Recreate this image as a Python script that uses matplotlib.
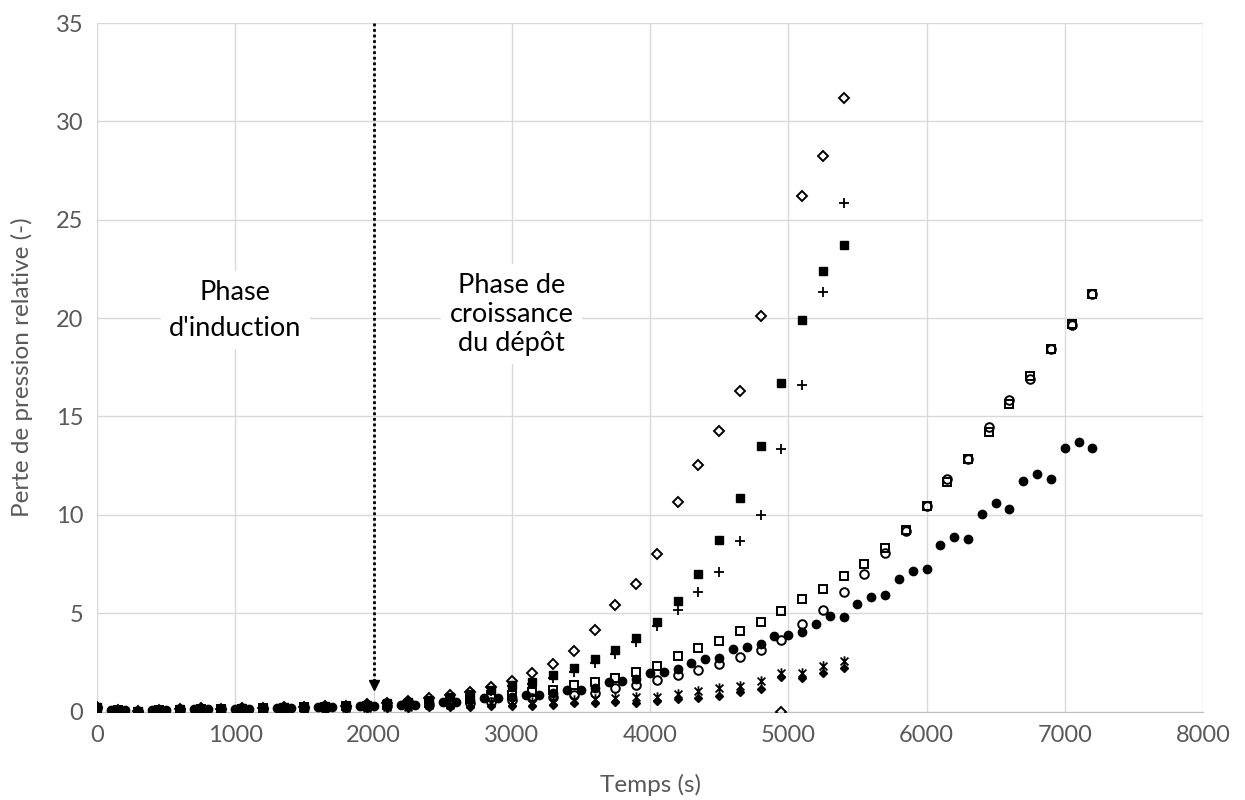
import matplotlib
matplotlib.use("Agg")
import matplotlib.pyplot as plt
from matplotlib.path import Path

# time axes (s)
t_150 = [0, 150, 300, 450, 600, 750, 900, 1050, 1200, 1350, 1500, 1650, 1800,
         1950, 2100, 2250, 2400, 2550, 2700, 2850, 3000, 3150, 3300, 3450, 3600,
         3750, 3900, 4050, 4200, 4350, 4500, 4650, 4800, 4950, 5100, 5250, 5400]
t_150_long = t_150 + [5550, 5700, 5850, 6000, 6150, 6300, 6450, 6600, 6750,
                      6900, 7050, 7200]
t_100 = [0, 100, 200, 300, 400, 500, 600, 700, 800, 900, 1000, 1100, 1200,
         1300, 1400, 1500, 1600, 1700, 1800, 1900, 2000, 2100, 2200, 2300, 2400,
         2500, 2600, 2700, 2800, 2900, 3000, 3100, 3200, 3300, 3400, 3500, 3600,
         3700, 3800, 3900, 4000, 4100, 4200, 4300, 4400, 4500, 4600, 4700, 4800,
         4900, 5000, 5100, 5200, 5300, 5400, 5500, 5600, 5700, 5800, 5900, 6000,
         6100, 6200, 6300, 6400, 6500, 6600, 6700, 6800, 6900, 7000, 7100, 7200]

# relative pressure loss (-)
open_diamond = [0.25, 0.10, 0.05, 0.10, 0.15, 0.20, 0.15, 0.20, 0.20, 0.25, 0.25,
                0.30, 0.30, 0.40, 0.45, 0.55, 0.70, 0.85, 1.00, 1.25, 1.55, 1.94,
                2.41, 3.09, 4.12, 5.41, 6.49, 8.03, 10.65, 12.55, 14.24, 16.3,
                20.1, 0.0, 26.2, 28.25, 31.2]
filled_square = [0.25, 0.10, 0.05, 0.10, 0.15, 0.15, 0.15, 0.20, 0.20, 0.25, 0.25,
                 0.30, 0.30, 0.35, 0.45, 0.50, 0.60, 0.75, 0.90, 1.10, 1.35, 1.50,
                 1.84, 2.19, 2.68, 3.12, 3.73, 4.54, 5.64, 6.99, 8.71, 10.87,
                 13.48, 16.7, 19.9, 22.38, 23.73]
plus = [0.20, 0.10, 0.05, 0.10, 0.15, 0.15, 0.15, 0.20, 0.20, 0.25, 0.25, 0.30,
        0.30, 0.35, 0.40, 0.50, 0.55, 0.70, 0.85, 1.05, 1.30, 1.40, 1.70, 2.00,
        2.45, 2.90, 3.55, 4.35, 5.15, 6.10, 7.07, 8.67, 9.97, 13.34, 16.6,
        21.33, 25.83]
open_square = [0.20, 0.10, 0.00, 0.10, 0.10, 0.15, 0.15, 0.15, 0.20, 0.20, 0.25,
               0.25, 0.30, 0.30, 0.35, 0.40, 0.45, 0.55, 0.65, 0.75, 0.85, 1.00,
               1.09, 1.35, 1.51, 1.68, 1.99, 2.31, 2.80, 3.24, 3.61, 4.09, 4.54,
               5.10, 5.71, 6.25, 6.88, 7.52, 8.30, 9.25, 10.43, 11.65, 12.85,
               14.2, 15.65, 17.05, 18.45, 19.7, 21.2]
open_circle = [0.20, 0.10, 0.00, 0.10, 0.10, 0.10, 0.15, 0.15, 0.15, 0.20, 0.20,
               0.20, 0.25, 0.25, 0.30, 0.35, 0.35, 0.40, 0.45, 0.50, 0.60, 0.70,
               0.75, 0.84, 0.92, 1.19, 1.35, 1.60, 1.85, 2.10, 2.40, 2.75, 3.12,
               3.66, 4.44, 5.15, 6.08, 6.98, 8.05, 9.20, 10.43, 11.82, 12.85,
               14.45, 15.85, 16.9, 18.45, 19.65, 21.2]
filled_circle = [0.20, 0.10, 0.10, 0.00, 0.10, 0.10, 0.15, 0.15, 0.15, 0.15, 0.15,
                 0.15, 0.20, 0.20, 0.20, 0.25, 0.25, 0.25, 0.30, 0.30, 0.30, 0.35,
                 0.35, 0.35, 0.45, 0.50, 0.50, 0.60, 0.68, 0.70, 0.75, 0.84, 0.84,
                 0.95, 1.09, 1.09, 1.20, 1.48, 1.56, 1.65, 1.97, 2.02, 2.14, 2.48,
                 2.67, 2.74, 3.17, 3.30, 3.43, 3.82, 3.88, 4.02, 4.45, 4.86, 4.83,
                 5.46, 5.80, 5.91, 6.76, 7.15, 7.27, 8.45, 8.87, 8.79, 10.06, 10.6,
                 10.3, 11.7, 12.1, 11.8, 13.4, 13.7, 13.4]
star = [0.15, 0.05, 0.00, 0.05, 0.10, 0.10, 0.10, 0.10, 0.15, 0.15, 0.15, 0.20,
        0.20, 0.20, 0.25, 0.25, 0.35, 0.35, 0.40, 0.45, 0.50, 0.50, 0.55, 0.60,
        0.65, 0.70, 0.75, 0.72, 0.89, 1.06, 1.18, 1.29, 1.56, 1.95, 1.97, 2.30,
        2.58]
filled_diamond = [0.10, 0.05, 0.00, 0.05, 0.05, 0.10, 0.10, 0.10, 0.10, 0.15, 0.15,
                  0.15, 0.15, 0.20, 0.20, 0.20, 0.25, 0.25, 0.25, 0.28, 0.28, 0.30,
                  0.33, 0.42, 0.43, 0.46, 0.45, 0.56, 0.62, 0.70, 0.79, 1.00, 1.13,
                  1.73, 1.68, 1.97, 2.19]

# Excel-like star marker: X with vertical bar
star_marker = Path([(0, -1), (0, 1), (-0.75, -0.75), (0.75, 0.75),
                    (-0.75, 0.75), (0.75, -0.75)],
                   [Path.MOVETO, Path.LINETO, Path.MOVETO, Path.LINETO,
                    Path.MOVETO, Path.LINETO])

plt.rcParams['font.family'] = ['Lato', 'DejaVu Sans']
grey = '#595959'

fig = plt.figure(figsize=(12.45, 8), dpi=100)
ax = fig.add_axes([0.0779, 0.1106, 0.8884, 0.8606])

ax.plot(t_150, open_diamond, ls='none', marker='D', ms=5.2, mew=1.4,
        mec='k', mfc='none', zorder=3)
ax.plot(t_150_long, open_circle, ls='none', marker='o', ms=6.2, mew=1.4,
        mec='k', mfc='none', zorder=3)
ax.plot(t_150_long, open_square, ls='none', marker='s', ms=6.4, mew=1.4,
        mec='k', mfc='none', zorder=3)
ax.plot(t_150, plus, ls='none', marker='+', ms=7, mew=1.3, color='k', zorder=3)
ax.plot(t_150, star, ls='none', marker=star_marker, ms=7.5, mew=1.3,
        color='k', mfc='none', zorder=3)
ax.plot(t_150, filled_diamond, ls='none', marker='D', ms=4.4, color='k', zorder=3)
ax.plot(t_150, filled_square, ls='none', marker='s', ms=6, color='k', zorder=3)
ax.plot(t_100, filled_circle, ls='none', marker='o', ms=6, color='k', zorder=3)

# dotted arrow marking the end of the induction phase
ax.plot([2000, 2000], [35, 1.5], ls=(0, (1, 1)), lw=2, color='k', zorder=4)
ax.plot([2000], [1.35], marker='v', ms=7, color='k', zorder=4)

ax.text(1000, 20.4, "Phase\nd'induction", ha='center', va='center',
        fontsize=19.5, linespacing=1.55, zorder=2,
        bbox=dict(facecolor='white', edgecolor='none', pad=6))
ax.text(3000, 20.2, "Phase de\ncroissance\ndu dépôt", ha='center', va='center',
        fontsize=19.5, linespacing=1.2, zorder=2,
        bbox=dict(facecolor='white', edgecolor='none', pad=6))

ax.set_xlim(0, 8000)
ax.set_ylim(0, 35)
ax.set_xticks(range(0, 8001, 1000))
ax.set_yticks(range(0, 36, 5))
ax.grid(True, color='#d9d9d9', lw=1, zorder=0)
ax.set_axisbelow(True)
for s in ['top', 'right', 'left']:
    ax.spines[s].set_visible(False)
ax.spines['bottom'].set_color('#bfbfbf')
ax.tick_params(length=0, labelsize=17, colors=grey, pad=10)
ax.set_xlabel('Temps (s)', fontsize=17.5, color=grey, labelpad=20)
ax.set_ylabel('Perte de pression relative (-)', fontsize=17.5, color=grey,
              labelpad=16)

fig.savefig('out.png', dpi=100)
